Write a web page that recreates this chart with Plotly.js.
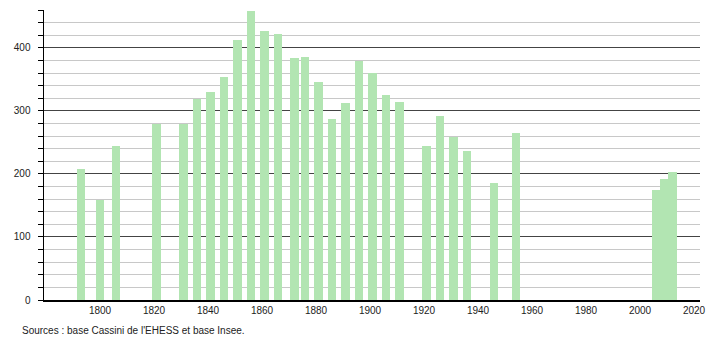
<!DOCTYPE html>
<html>
<head>
<meta charset="utf-8">
<script src="https://cdn.plot.ly/plotly-3.0.1.min.js"></script>
<style>html,body{margin:0;padding:0;background:#fff;} #chart{width:710px;height:340px;}</style>
</head>
<body>
<div id="chart"></div>
<script>
const years = [1793, 1800, 1806, 1821, 1831, 1836, 1841, 1846, 1851, 1856, 1861, 1866, 1872, 1876, 1881, 1886, 1891, 1896, 1901, 1906, 1911, 1921, 1926, 1931, 1936, 1946, 1954, 2006, 2009, 2012];
const population = [208, 159, 244, 279, 279, 319, 330, 354, 413, 459, 427, 422, 384, 385, 346, 287, 312, 379, 360, 325, 314, 245, 292, 259, 237, 186, 265, 175, 192, 203];
const xTicks = [1800, 1820, 1840, 1860, 1880, 1900, 1920, 1940, 1960, 1980, 2000, 2020];
const yTicks = [0, 100, 200, 300, 400];
const sourceText = "Sources : base Cassini de l'EHESS et base Insee.";

const trace = {
  type: 'bar',
  x: years,
  y: population,
  width: 3.15,
  marker: {color: '#b2e5b2', line: {width: 0}},
  hoverinfo: 'x+y'
};

const layout = {
  width: 710,
  height: 340,
  margin: {l: 44, r: 10, t: 10, b: 40},
  paper_bgcolor: '#fff',
  plot_bgcolor: '#fff',
  font: {family: '"Liberation Sans", Arial, sans-serif', size: 10, color: '#222'},
  showlegend: false,
  bargap: 0,
  xaxis: {
    range: [1779.26, 2022.2],
    tickmode: 'array',
    tickvals: xTicks,
    ticktext: xTicks.map(String),
    ticks: '',
    showgrid: false,
    zeroline: false,
    showline: true,
    linecolor: '#000',
    linewidth: 1.5,
    tickfont: {size: 10, color: '#222'},
    fixedrange: true
  },
  yaxis: {
    range: [0, 460],
    tickmode: 'array',
    tickvals: yTicks,
    ticktext: yTicks.map(String),
    ticks: 'outside',
    ticklen: 5,
    tickcolor: '#000',
    ticklabelstandoff: 5,
    showgrid: true,
    gridcolor: '#444',
    gridwidth: 1,
    zeroline: false,
    showline: true,
    linecolor: '#000',
    linewidth: 1.5,
    tickfont: {size: 10, color: '#222'},
    minor: {
      dtick: 20,
      tick0: 0,
      ticks: 'outside',
      ticklen: 5,
      tickcolor: '#000',
      showgrid: true,
      gridcolor: '#c8c8c8',
      gridwidth: 1
    },
    fixedrange: true
  },
  annotations: [{
    text: sourceText,
    xref: 'paper', yref: 'paper',
    x: -0.0366, y: -0.105,
    xanchor: 'left', yanchor: 'middle',
    showarrow: false,
    font: {size: 10, color: '#222'}
  }]
};

Plotly.newPlot('chart', [trace], layout, {staticPlot: true, displayModeBar: false});
</script>
</body>
</html>
